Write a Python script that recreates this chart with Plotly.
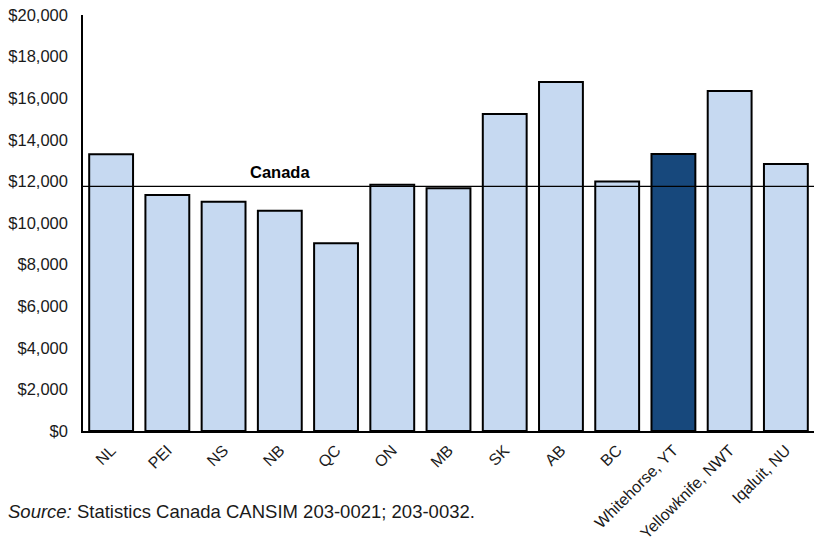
import plotly.graph_objects as go

regions = ["NL", "PEI", "NS", "NB", "QC", "ON", "MB", "SK", "AB", "BC",
           "Whitehorse, YT", "Yellowknife, NWT", "Iqaluit, NU"]
values = [13300, 11350, 11020, 10590, 9030, 11840, 11670, 15240, 16780,
          11990, 13320, 16350, 12840]
canada_value = 11760
y_ticks = [0, 2000, 4000, 6000, 8000, 10000, 12000, 14000, 16000, 18000, 20000]
y_tick_text = ["$0", "$2,000", "$4,000", "$6,000", "$8,000", "$10,000",
               "$12,000", "$14,000", "$16,000", "$18,000", "$20,000"]

light = "#C6D9F1"
dark = "#17487C"
colors = [dark if r == "Whitehorse, YT" else light for r in regions]

font_family = "Arial, Liberation Sans, sans-serif"
text_color = "#1a1a1a"

fig = go.Figure()
fig.add_trace(go.Bar(
    x=regions, y=values,
    marker=dict(color=colors, line=dict(color="#000000", width=2)),
    hoverinfo="x+y",
))

# Canada reference line and its label
fig.add_shape(type="line", xref="paper", yref="y", x0=0, x1=1,
              y0=canada_value, y1=canada_value,
              line=dict(color="#000000", width=1.2))
fig.add_annotation(x="NB", y=canada_value, xref="x", yref="y",
                   text="<b>Canada</b>", showarrow=False, yanchor="bottom",
                   yshift=3, font=dict(family=font_family, size=16.5, color="#000000"))

# Source note, placed in paper coordinates below the plot area
plot_w, plot_h = 731, 416
fig.add_annotation(x=-77 / plot_w, y=-(511 - 431) / plot_h,
                   xref="paper", yref="paper", showarrow=False,
                   text="<i>Source:</i> Statistics Canada CANSIM 203-0021; 203-0032.",
                   font=dict(family=font_family, size=18.5, color=text_color),
                   xanchor="left", yanchor="middle")

fig.update_layout(
    width=814, height=544,
    margin=dict(l=83, r=0, t=15, b=113),
    paper_bgcolor="#FFFFFF", plot_bgcolor="#FFFFFF",
    bargap=0.22, showlegend=False,
    font=dict(family=font_family, size=16.5, color=text_color),
)

fig.update_xaxes(showline=True, linecolor="#000000", linewidth=1.5,
                 ticks="", tickangle=-45, showgrid=False, ticklabelstandoff=2,
                 automargin=False,
                 tickfont=dict(family=font_family, size=16, color=text_color))
fig.update_yaxes(range=[0, 20000], tickvals=y_ticks, ticktext=y_tick_text,
                 showline=True, linecolor="#000000", linewidth=1.5,
                 ticks="", showgrid=False, zeroline=False, ticklabelstandoff=10,
                 automargin=False,
                 tickfont=dict(family=font_family, size=16.5, color=text_color))

fig.write_html("out.html")
